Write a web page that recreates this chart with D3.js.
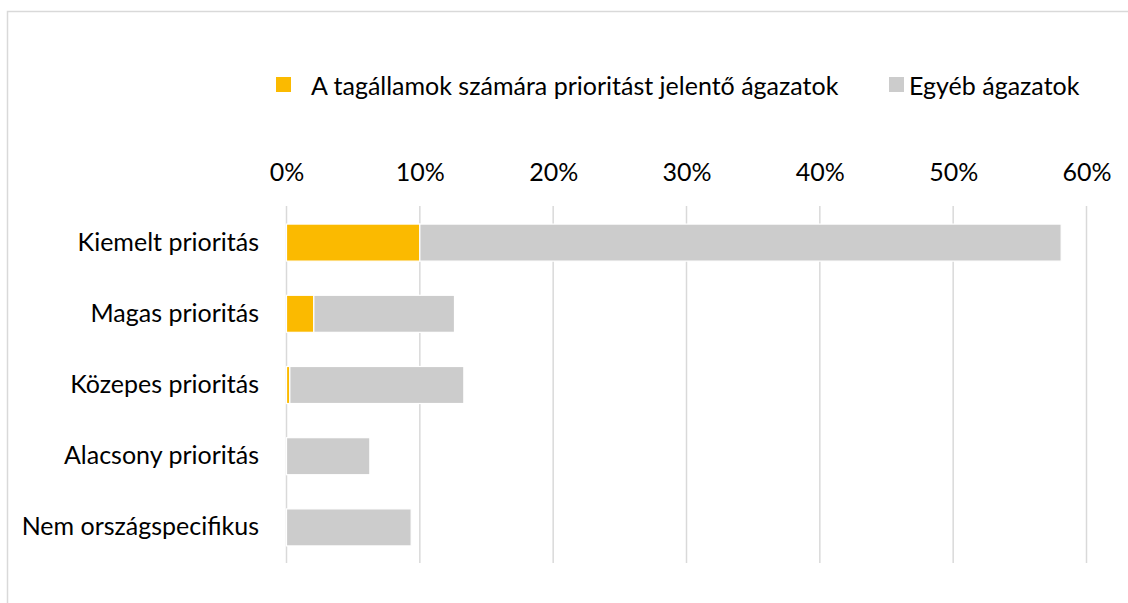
<!DOCTYPE html>
<html>
<head>
<meta charset="utf-8">
<script src="https://cdn.jsdelivr.net/npm/d3@7"></script>
<style>
  html, body { margin: 0; padding: 0; background: #fff; }
  svg { display: block; }
  text { font-family: Lato, "Open Sans", sans-serif; fill: #000; }
</style>
</head>
<body>
<svg id="chart" width="1128" height="603"></svg>
<script>
const categories = ["Kiemelt prioritás", "Magas prioritás", "Közepes prioritás", "Alacsony prioritás", "Nem országspecifikus"];
const priorityValues = [10.0, 2.05, 0.25, 0, 0];
const otherValues = [48.1, 10.55, 13.05, 6.25, 9.35];
const seriesNames = ["A tagállamok számára prioritást jelentő ágazatok", "Egyéb ágazatok"];
const tickValues = [0, 10, 20, 30, 40, 50, 60];
const colors = ["#FBBA00", "#CCCCCC"];

const svg = d3.select("#chart");
const W = 1128, H = 603;
const FS = 25;
const FF = "Lato, 'Open Sans', sans-serif";

// outer frame
svg.append("rect").attr("x", 7.5).attr("y", 11.5).attr("width", W + 10).attr("height", H + 10)
  .attr("fill", "#fff").attr("stroke", "#D9D9D9").attr("stroke-width", 1.5);

const x = d3.scaleLinear().domain([0, 60]).range([286.5, 1086.5]);
const y = d3.scaleBand().domain(categories).range([207, 563]).paddingInner(0.48).paddingOuter(0.24);

// grid lines
svg.append("g").selectAll("line").data(tickValues).join("line")
  .attr("x1", d => x(d)).attr("x2", d => x(d))
  .attr("y1", 206).attr("y2", 563)
  .attr("stroke", "#D9D9D9").attr("stroke-width", 1.5);

// top axis labels
const xAxis = d3.axisTop(x).tickValues(tickValues).tickFormat(d => d + "%").tickSize(0).tickPadding(0);
const gx = svg.append("g").attr("transform", "translate(0,181)").call(xAxis);
gx.select(".domain").remove();
gx.selectAll("text").attr("font-size", FS).attr("font-family", FF).attr("fill", "#000");

// stacked data
const rows = categories.map((c, i) => ({ cat: c, a: priorityValues[i], b: otherValues[i] }));
const stack = d3.stack().keys(["a", "b"])(rows);

svg.append("g").selectAll("g").data(stack).join("g")
  .attr("fill", (d, i) => colors[i])
  .selectAll("rect").data(d => d.filter(s => s[1] - s[0] > 0)).join("rect")
  .attr("x", d => x(d[0]))
  .attr("width", d => x(d[1]) - x(d[0]))
  .attr("y", d => y(d.data.cat))
  .attr("height", y.bandwidth())
  .attr("stroke", "#fff").attr("stroke-width", 1.2);

// category axis labels
const yAxis = d3.axisLeft(y).tickSize(0).tickPadding(0);
const gy = svg.append("g").attr("transform", "translate(259,0)").call(yAxis);
gy.select(".domain").remove();
gy.selectAll("text").attr("font-size", FS).attr("font-family", FF).attr("fill", "#000");

// legend
const legendItems = [
  { name: seriesNames[0], color: colors[0], sx: 276, tx: 311 },
  { name: seriesNames[1], color: colors[1], sx: 889, tx: 909 }
];
const lg = svg.append("g");
legendItems.forEach(it => {
  lg.append("rect").attr("x", it.sx).attr("y", 77).attr("width", 15).attr("height", 15).attr("fill", it.color);
  lg.append("text").attr("x", it.tx).attr("y", 86).attr("dy", "0.35em").attr("font-size", FS).text(it.name);
});
</script>
</body>
</html>
